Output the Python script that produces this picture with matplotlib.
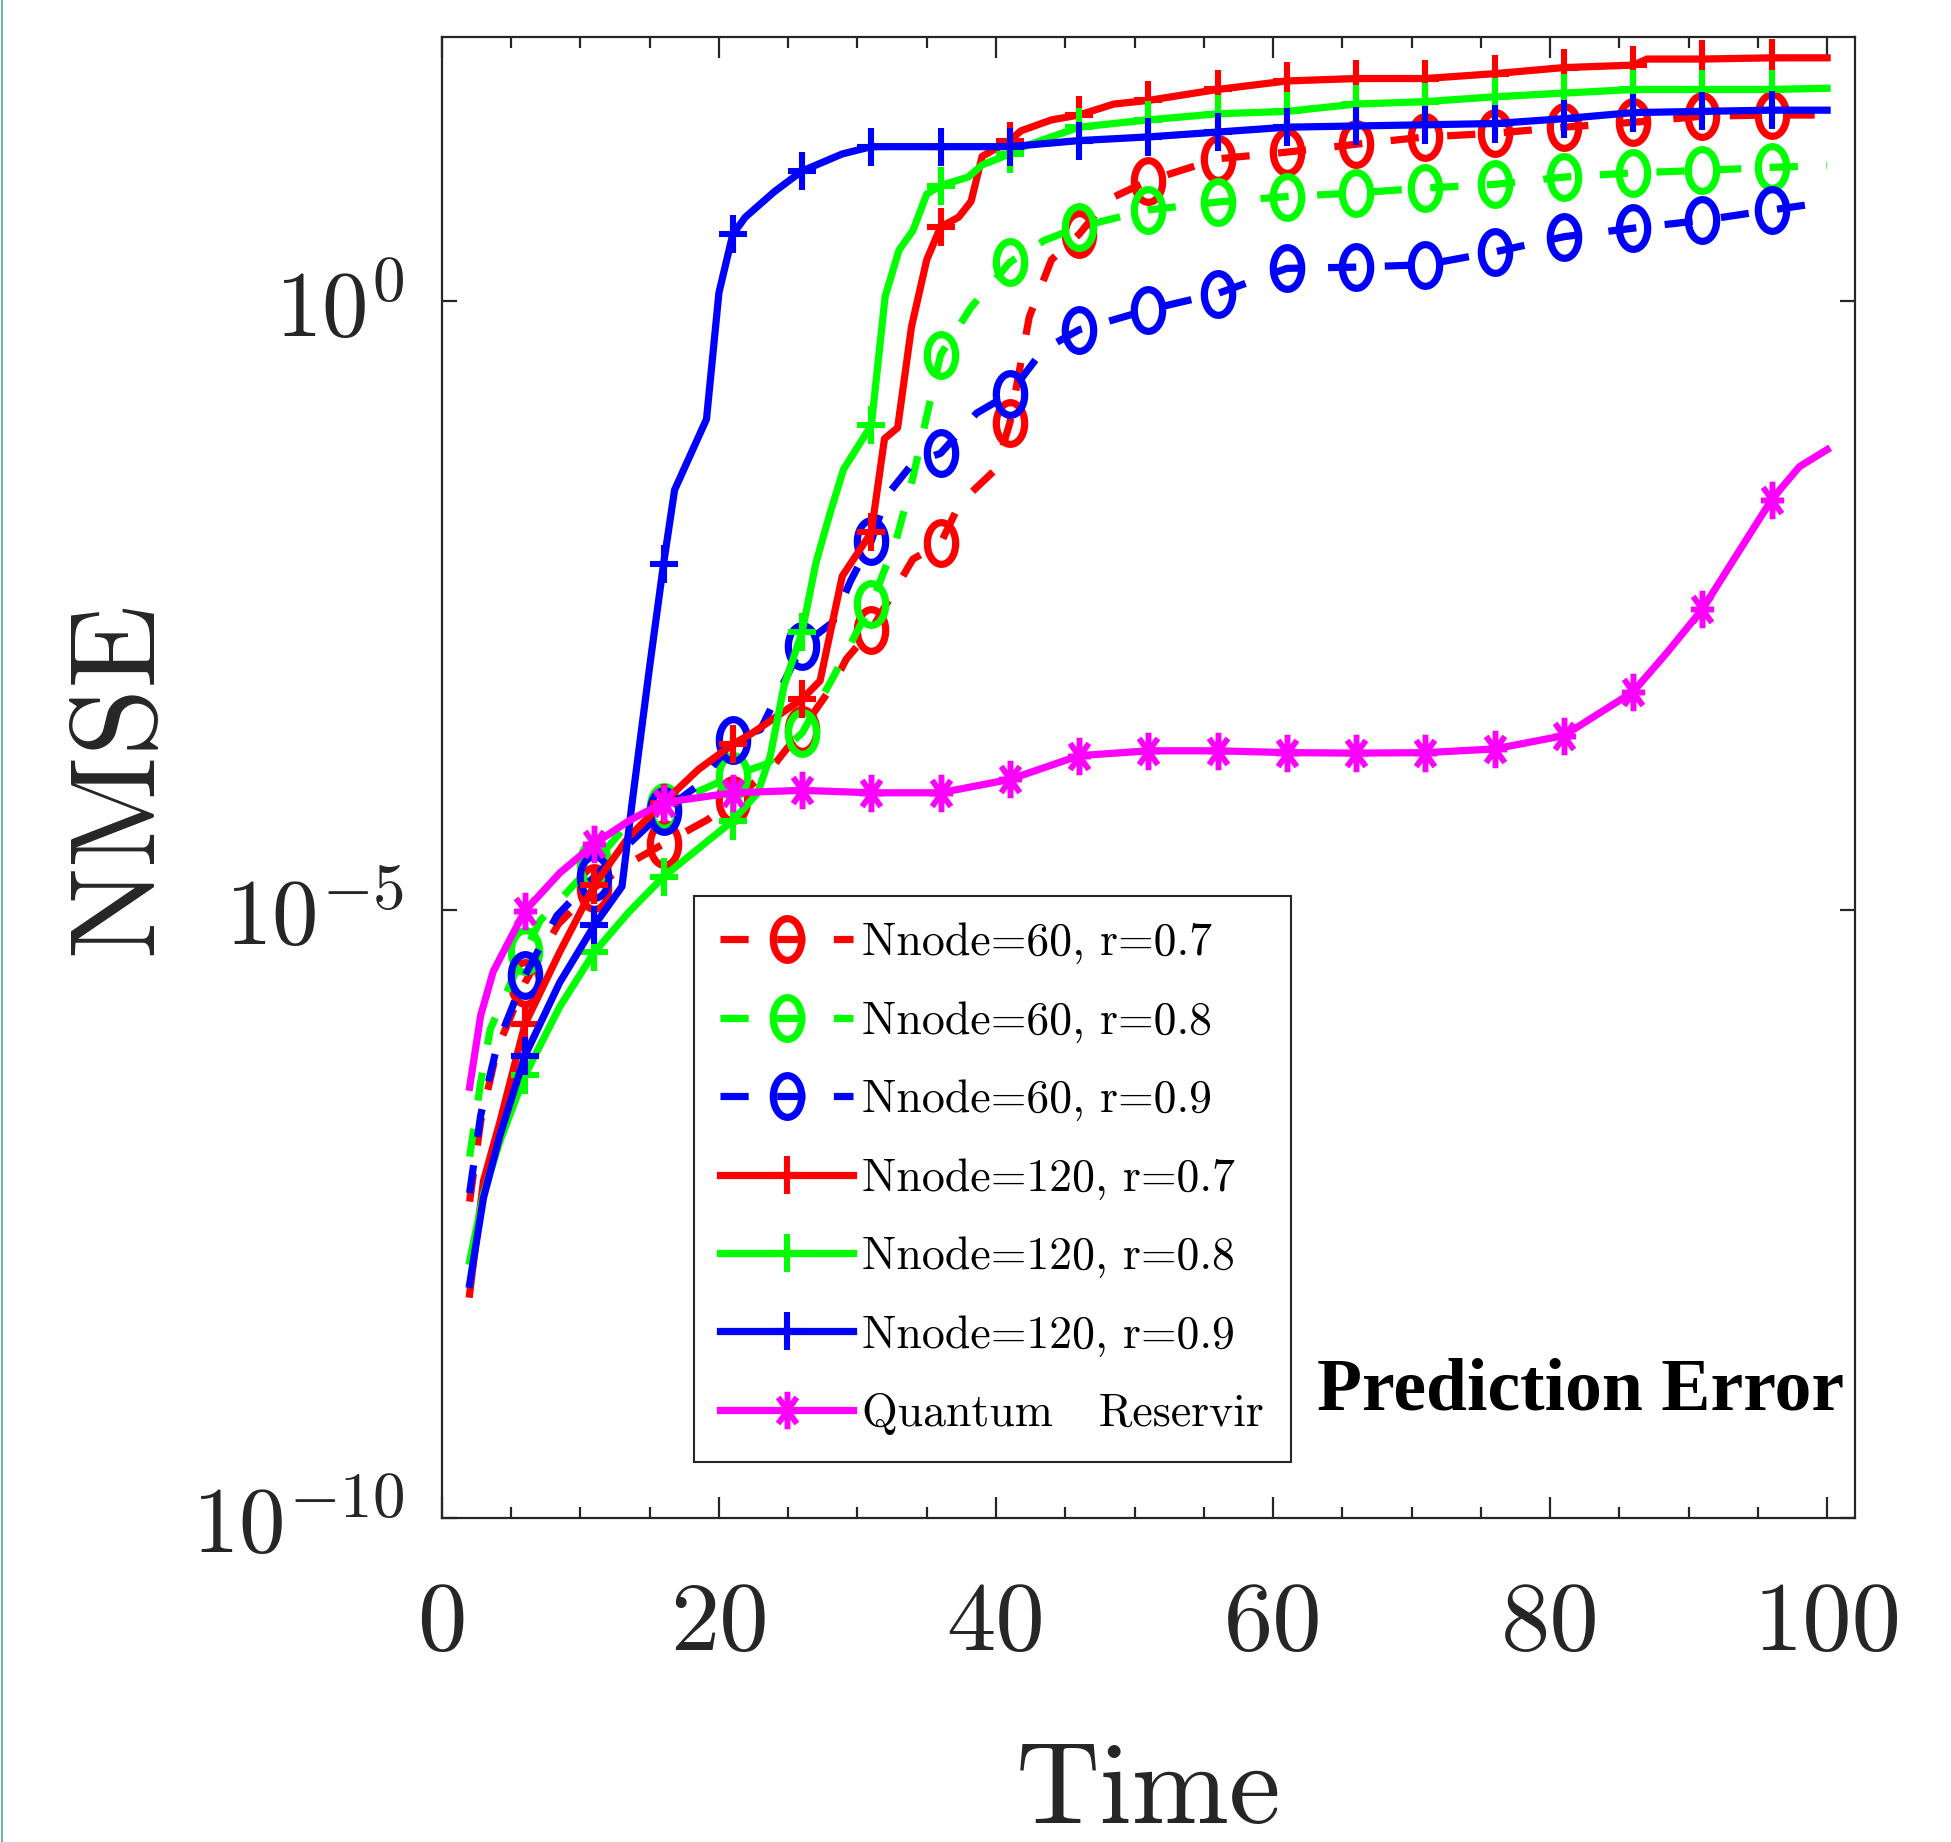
import numpy as np
import matplotlib
matplotlib.use("Agg")
import matplotlib.pyplot as plt
from matplotlib.path import Path
from matplotlib.lines import Line2D
from matplotlib.ticker import NullLocator

plt.rcParams['mathtext.fontset'] = 'cm'

# time points and log10(NMSE), one pair per curve
t_60_07 = [2, 2.8, 4, 6, 8.4, 11, 13.5, 16, 19.2, 21, 23.7, 26, 28.2, 29.2, 31, 34, 36, 37.4, 40, 41,
           42.4, 44, 46, 48, 51, 56, 61, 66, 71, 76, 81, 86, 91, 96, 100]
lg_60_07 = [-7.40, -6.74, -6.14, -5.60, -5.12, -4.82, -4.62, -4.46, -4.26, -4.10, -3.85, -3.52, -3.16, -2.94,
            -2.70, -2.12, -1.99, -1.66, -1.38, -1.00, -0.13, 0.34, 0.55, 0.83, 0.99, 1.17, 1.225, 1.29, 1.35,
            1.38, 1.43, 1.47, 1.52, 1.53, 1.53]

t_60_08 = [2, 2.8, 3.5, 6, 7.1, 11, 13, 16, 21, 23.5, 26, 28.2, 31, 32.8, 34, 36, 38.2, 41, 43.5, 46, 51,
           56, 61, 66, 71, 76, 81, 86, 91, 96, 100]
lg_60_08 = [-7.03, -6.42, -5.98, -5.34, -5.09, -4.62, -4.35, -4.16, -3.90, -3.80, -3.55, -3.10, -2.49, -1.96,
            -1.45, -0.44, -0.05, 0.32, 0.50, 0.61, 0.75, 0.815, 0.86, 0.89, 0.93, 0.96, 1.02, 1.055, 1.075,
            1.10, 1.115]

t_60_09 = [2, 2.8, 4, 6, 8.3, 11, 16, 18.6, 21, 23, 26, 28.2, 29.5, 31, 32.1, 34, 36, 38.6, 41, 43.4, 46,
           51, 56, 61, 66, 71, 76, 81, 86, 91, 96, 100]
lg_60_09 = [-7.33, -6.69, -6.11, -5.54, -5.05, -4.73, -4.19, -3.97, -3.61, -3.52, -2.83, -2.64, -2.30, -1.97,
            -1.60, -1.33, -1.25, -0.92, -0.76, -0.40, -0.235, -0.07, 0.063, 0.27, 0.28, 0.30, 0.405, 0.53,
            0.60, 0.665, 0.75, 0.815]

t_120_07 = [2, 3, 4.2, 6, 8.5, 11, 13.5, 16, 18.5, 21, 22.4, 26, 27.3, 28.9, 31, 31.95, 32.9, 33.9, 35, 36,
            37.3, 38.2, 39, 41, 41.8, 44, 46, 48.5, 51, 56, 61, 66, 71, 76, 81, 86, 87, 91, 96, 100]
lg_120_07 = [-8.16, -7.23, -6.74, -5.94, -5.35, -4.80, -4.40, -4.12, -3.85, -3.64, -3.55, -3.27, -3.12, -2.26,
             -1.90, -1.13, -1.04, -0.21, 0.34, 0.61, 0.69, 0.82, 1.19, 1.32, 1.40, 1.49, 1.53, 1.62, 1.65,
             1.74, 1.81, 1.83, 1.83, 1.87, 1.92, 1.94, 1.99, 1.99, 2.00, 2.00]

t_120_08 = [2, 3, 4.2, 6, 8.5, 11, 13.5, 16, 18.5, 21, 22.8, 23.7, 24.7, 26, 27, 28, 29, 30, 31, 32, 33, 34,
            35, 36, 38, 39, 41, 42, 46, 51, 56, 61, 66, 71, 76, 81, 86, 91, 96, 100]
lg_120_08 = [-7.89, -7.34, -6.90, -6.36, -5.80, -5.35, -5.02, -4.73, -4.50, -4.27, -4.04, -3.74, -3.16, -2.72,
             -2.15, -1.75, -1.38, -1.20, -1.02, 0.04, 0.42, 0.58, 0.88, 0.95, 1.02, 1.12, 1.21, 1.27, 1.43,
             1.49, 1.54, 1.56, 1.62, 1.64, 1.68, 1.71, 1.74, 1.74, 1.74, 1.75]

t_120_09 = [2, 3, 4.2, 6, 8.5, 11, 13, 13.7, 15, 16, 16.8, 19.1, 20, 21, 21.9, 24, 26, 28.9, 31, 36, 41, 46,
            51, 56, 61, 66, 71, 76, 81, 86, 91, 96, 100]
lg_120_09 = [-8.08, -7.37, -6.85, -6.20, -5.60, -5.13, -4.81, -4.15, -3.00, -2.16, -1.55, -0.97, 0.07, 0.55,
             0.69, 0.90, 1.07, 1.21, 1.27, 1.27, 1.27, 1.32, 1.35, 1.39, 1.43, 1.44, 1.45, 1.46, 1.50, 1.55,
             1.56, 1.57, 1.57]

t_qr = [2, 2.8, 3.7, 4.7, 6, 8.5, 11, 13.5, 16, 21, 26, 31, 36, 41, 46, 51, 56, 61, 66, 71, 76, 81, 86,
        88.5, 91, 93.5, 96, 98, 100]
lg_qr = [-6.46, -5.87, -5.51, -5.29, -5.01, -4.70, -4.46, -4.27, -4.12, -4.04, -4.02, -4.04, -4.04, -3.93,
         -3.735, -3.695, -3.695, -3.71, -3.714, -3.71, -3.68, -3.57, -3.21, -2.88, -2.53, -2.08, -1.63,
         -1.36, -1.22]

labels = ['Nnode=60, r=0.7', 'Nnode=60, r=0.8', 'Nnode=60, r=0.9',
          'Nnode=120, r=0.7', 'Nnode=120, r=0.8', 'Nnode=120, r=0.9',
          'Quantum   Reservir']

MARK_T = list(range(6, 97, 5))

# markers look taller than wide in the original
th = np.linspace(0, 2 * np.pi, 73)
ring = Path(np.column_stack([0.68 * np.cos(th), np.sin(th)]), closed=True)
plus = Path([(0, -1), (0, 1), (-0.74, 0), (0.74, 0)],
            [Path.MOVETO, Path.LINETO, Path.MOVETO, Path.LINETO])
star = Path([(0, -1), (0, 1), (-0.62, 0), (0.62, 0), (-0.5, -0.7), (0.5, 0.7), (-0.5, 0.7), (0.5, -0.7)],
            [Path.MOVETO, Path.LINETO] * 4)

RED, GREEN, BLUE, MAG = '#ff0000', '#00ff00', '#0000ff', '#ff00ff'
LW = 5.2
DASH = (3.9, 3.95)
dark = '#262626'

styles = [
    (RED, '--', ring, 30, 5.2),
    (GREEN, '--', ring, 30, 5.2),
    (BLUE, '--', ring, 30, 5.2),
    (RED, '-', plus, 28, 4.4),
    (GREEN, '-', plus, 28, 4.4),
    (BLUE, '-', plus, 28, 4.4),
    (MAG, '-', star, 27, 4.2),
]
data = [(t_60_07, lg_60_07), (t_60_08, lg_60_08), (t_60_09, lg_60_09),
        (t_120_07, lg_120_07), (t_120_08, lg_120_08), (t_120_09, lg_120_09),
        (t_qr, lg_qr)]

fig = plt.figure(figsize=(19.51, 18.42), dpi=100)
ax = fig.add_axes([0.2265, 0.1759, 0.7242, 0.8038])

handles = []
for (t, lg), (c, ls, mk, ms, mew) in zip(data, styles):
    idx = [i for i, v in enumerate(t) if v in MARK_T]
    kw = dict(color=c, lw=LW, marker=mk, ms=ms, mfc='none', mec=c, mew=mew,
              solid_joinstyle='round')
    if ls == '--':
        kw['dashes'] = DASH
    ax.plot(t, 10.0 ** np.array(lg), markevery=idx, **kw)
    handles.append(Line2D([], [], **kw))

ax.set_yscale('log')
ax.set_xlim(0, 102)
ax.set_ylim(1e-10, 10 ** 2.168)

ax.set_xticks([0, 20, 40, 60, 80, 100])
ax.set_xticks(np.arange(5, 101, 5), minor=True)
ax.set_xticklabels(['0', '20', '40', '60', '80', '100'], fontfamily='cmr10', fontsize=71, color=dark)
ax.set_yticks([1e-10, 1e-5, 1])
ax.yaxis.set_minor_locator(NullLocator())
ax.set_yticklabels([r'$10^{-10}$', r'$10^{-5}$', r'$10^{0}$'], fontsize=67, color=dark)

ax.tick_params(which='both', direction='in', top=True, right=True, color=dark, width=1.6)
ax.tick_params(axis='x', which='major', length=15, pad=46)
ax.tick_params(axis='x', which='minor', length=8)
ax.tick_params(axis='y', which='major', length=11, pad=27)
for s in ax.spines.values():
    s.set_color(dark)
    s.set_linewidth(1.6)

ax.set_xlabel('Time', fontfamily='cmr10', fontsize=84, color=dark, va='baseline')
ax.xaxis.set_label_coords(0.5, -0.206)
ax.set_ylabel('NMSE', fontfamily='cmr10', fontsize=88, color=dark, va='baseline')
ax.yaxis.set_label_coords(-0.205, 0.5)

leg = ax.legend(handles, labels, loc='upper left', bbox_to_anchor=(0.1783, 0.420), borderaxespad=0,
                prop={'family': 'cmr10', 'size': 33}, handlelength=2.9, handletextpad=0.2,
                labelspacing=0.8, borderpad=0.58, numpoints=1, fancybox=False, framealpha=1,
                edgecolor=dark)
leg.get_frame().set_linewidth(1.5)

ax.text(0.9925, 0.073, 'Prediction Error', transform=ax.transAxes, ha='right', va='baseline',
        fontfamily='Liberation Serif', fontweight='bold', fontsize=53)

# thin teal border on the left edge of the screenshot
fig.add_artist(Line2D([0.0008, 0.0008], [0, 1], transform=fig.transFigure, color='#4cae94', lw=1.2))

fig.savefig('out.png', dpi=100)
